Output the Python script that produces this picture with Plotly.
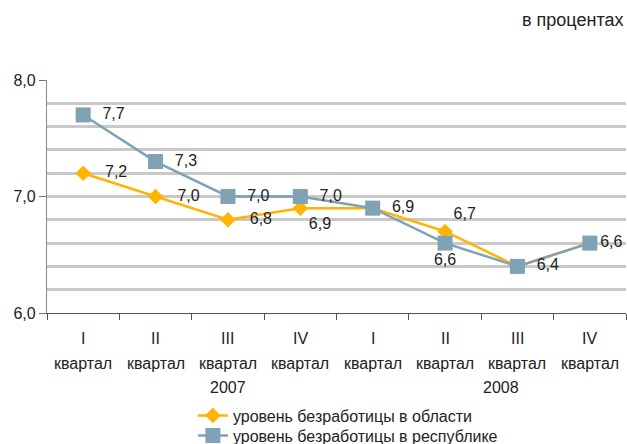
import plotly.graph_objects as go

# Quarterly unemployment rate, %
quarters = ["I", "II", "III", "IV", "I", "II", "III", "IV"]
region_rate = [7.2, 7.0, 6.8, 6.9, 6.9, 6.7, 6.4, 6.6]
republic_rate = [7.7, 7.3, 7.0, 7.0, 6.9, 6.6, 6.4, 6.6]
years = ["2007", "2008"]
year_pos = [2, 5.77]

# which points carry a value label, and where it sits
region_show = [True, True, True, True, False, True, False, False]
region_pos = ["middle right", "middle right", "middle right", "bottom right",
              "middle right", "top right", "middle right", "middle right"]
region_pad = [3, 3, 3, 0, 0, 0, 0, 0]
republic_pos = ["middle right", "middle right", "middle right", "middle right",
                "middle right", "bottom center", "middle right", "middle right"]
republic_pad = [2, 2, 2, 2, 2, 0, 2, 0]

FONT = "Liberation Sans, Arial, sans-serif"
TXT = "#222222"
ORANGE = "#ffb400"
STEEL = "#7fa2b4"
GRID = "#c9c9c9"
NBSP = "\u00a0"


def fmt(v):
    return f"{v:.1f}".replace(".", ",")


xs = list(range(len(quarters)))

fig = go.Figure()
fig.add_trace(go.Scatter(
    x=xs, y=region_rate, mode="lines+markers+text",
    name="уровень безработицы в области", legend="legend",
    line=dict(color=ORANGE, width=2.5),
    marker=dict(symbol="diamond", size=12, color=ORANGE),
    text=[NBSP * p + fmt(v) if s else "" for v, s, p in
          zip(region_rate, region_show, region_pad)],
    textposition=region_pos,
    textfont=dict(family=FONT, size=16, color=TXT),
    cliponaxis=False,
))
fig.add_trace(go.Scatter(
    x=xs, y=republic_rate, mode="lines+markers+text",
    name="уровень безработицы в республике", legend="legend2",
    line=dict(color=STEEL, width=2.5),
    marker=dict(symbol="square", size=15, color=STEEL),
    text=[NBSP * p + fmt(v) for v, p in zip(republic_rate, republic_pad)],
    textposition=republic_pos,
    textfont=dict(family=FONT, size=16, color=TXT),
    cliponaxis=False,
))

# three-line category labels under the axis: quarter, "квартал", year
annotations = []
for i, q in zip(xs, quarters):
    annotations.append(dict(
        x=i, y=0, xref="x", yref="paper", text=q, showarrow=False,
        yanchor="middle", yshift=-25, font=dict(family=FONT, size=16, color=TXT),
    ))
    annotations.append(dict(
        x=i, y=0, xref="x", yref="paper", text="квартал", showarrow=False,
        yanchor="middle", yshift=-50, font=dict(family=FONT, size=16, color=TXT),
    ))
for yr, pos in zip(years, year_pos):
    annotations.append(dict(
        x=pos, y=0, xref="x", yref="paper", text=yr, showarrow=False,
        yanchor="middle", yshift=-74, font=dict(family=FONT, size=16, color=TXT),
    ))
annotations.append(dict(
    x=1, y=1, xref="paper", yref="paper", text="в процентах", showarrow=False,
    xanchor="right", yanchor="middle", xshift=-1, yshift=60,
    font=dict(family=FONT, size=18, color=TXT),
))

legend_common = dict(
    orientation="v", x=0.252, xanchor="left", yanchor="top",
    font=dict(family=FONT, size=16, color=TXT),
    bgcolor="rgba(0,0,0,0)", borderwidth=0, itemsizing="trace",
)

fig.update_layout(
    width=627, height=444,
    margin=dict(l=47, r=1, t=80, b=131, autoexpand=False),
    paper_bgcolor="white", plot_bgcolor="white",
    font=dict(family=FONT, size=16, color=TXT),
    showlegend=True,
    legend=dict(legend_common, y=-0.367),
    legend2=dict(legend_common, y=-0.453),
    annotations=annotations,
    # ticks sit on the boundaries between quarters
    xaxis=dict(
        range=[-0.5, 7.5], tickvals=[i + 0.5 for i in range(-1, 8)],
        showticklabels=False, ticks="outside", ticklen=6, tickcolor="#555",
        showgrid=False, zeroline=False,
        showline=True, linecolor="#555", linewidth=1.2,
    ),
)

fig.update_yaxes(
    range=[6, 8], tickvals=[6, 7, 8], ticktext=[fmt(v) for v in [6, 7, 8]],
    ticks="outside", ticklen=7, tickcolor="#777",
    showline=True, linecolor="#888", linewidth=1.2,
    showgrid=True, gridcolor=GRID, gridwidth=3, zeroline=False,
    minor=dict(dtick=0.2, tick0=6, showgrid=True, gridcolor=GRID, gridwidth=3,
               ticks=""),
    tickfont=dict(family=FONT, size=16, color=TXT),
)

fig.write_html("out.html")
